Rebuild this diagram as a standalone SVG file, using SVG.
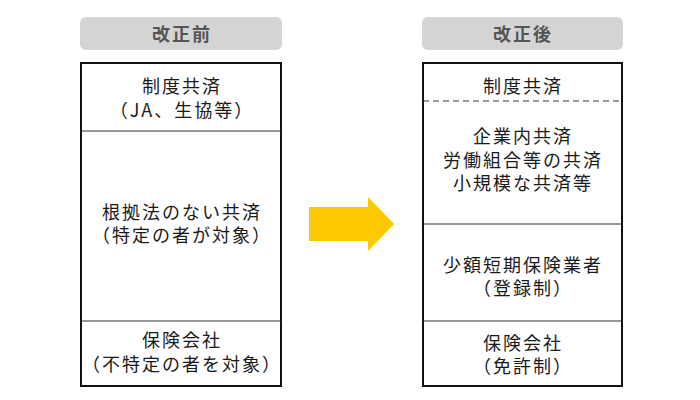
<svg xmlns="http://www.w3.org/2000/svg" width="700" height="400" viewBox="0 0 700 400">
<style>
.hdr{fill:#d4d4d4}
.htxt{font-family:"Noto Sans CJK JP","Noto Sans",sans-serif;font-size:18px;font-weight:bold;fill:#555;text-anchor:middle;letter-spacing:2px}
.box{fill:#fff;stroke:#111;stroke-width:2}
.div{stroke:#333;stroke-width:1.2}
.dash{stroke:#333;stroke-width:1;stroke-dasharray:6,4}
.t{font-family:"Noto Sans CJK JP","Noto Sans",sans-serif;font-size:18px;fill:#1a1a1a;text-anchor:middle;letter-spacing:2px}
</style>
<g id="before">
<rect class="hdr" x="80" y="17" width="202" height="33" rx="6"/>
<text class="htxt" x="182" y="41">改正前</text>
<rect class="box" x="81" y="63" width="200" height="323"/>
<line class="div" x1="81" y1="131" x2="281" y2="131"/>
<line class="div" x1="81" y1="321" x2="281" y2="321"/>
<text class="t" x="182" y="93">制度共済</text>
<text class="t" x="182" y="117">（JA、生協等）</text>
<text class="t" x="182" y="219">根拠法のない共済</text>
<text class="t" x="182" y="242">（特定の者が対象）</text>
<text class="t" x="182" y="347">保険会社</text>
<text class="t" x="182" y="371">（不特定の者を対象）</text>
</g>
<g id="arrow">
<polygon points="309,207 368,207 368,197 394,224 368,251 368,241 309,241" fill="#fcc800"/>
</g>
<g id="after">
<rect class="hdr" x="422" y="17" width="201" height="33" rx="6"/>
<text class="htxt" x="523" y="41">改正後</text>
<rect class="box" x="423" y="63" width="199" height="323"/>
<line class="dash" x1="423" y1="101" x2="622" y2="101"/>
<line class="div" x1="423" y1="224" x2="622" y2="224"/>
<line class="div" x1="423" y1="321" x2="622" y2="321"/>
<text class="t" x="523" y="93">制度共済</text>
<text class="t" x="523" y="143">企業内共済</text>
<text class="t" x="523" y="167">労働組合等の共済</text>
<text class="t" x="523" y="190">小規模な共済等</text>
<text class="t" x="523" y="272">少額短期保険業者</text>
<text class="t" x="523" y="295">（登録制）</text>
<text class="t" x="523" y="350">保険会社</text>
<text class="t" x="523" y="373">（免許制）</text>
</g>
</svg>
